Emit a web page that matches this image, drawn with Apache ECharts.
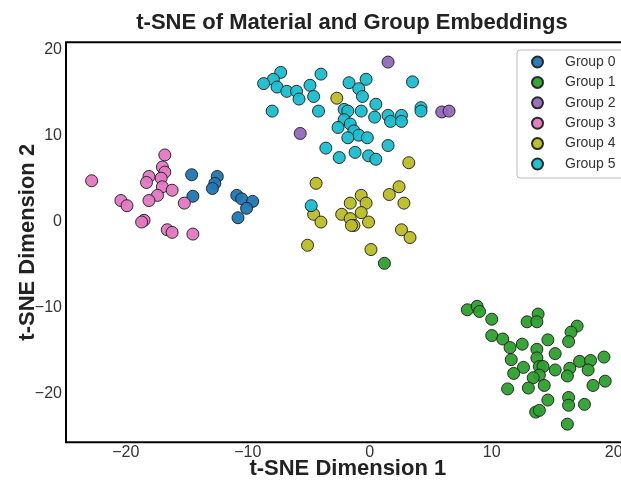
<!DOCTYPE html>
<html>
<head>
<meta charset="utf-8">
<script src="https://cdn.jsdelivr.net/npm/echarts@6/dist/echarts.min.js"></script>
<style>html,body{margin:0;padding:0;background:#fff}#c{width:621px;height:481px}</style>
</head>
<body>
<div id="c"></div>
<script>
const groupNames = ['Group 0','Group 1','Group 2','Group 3','Group 4','Group 5'];
const groupColors = ['#1f77b4','#2ca02c','#9467bd','#e377c2','#bcbd22','#17becf'];
const xTicks = [-20,-10,0,10,20];
const yTicks = [-20,-10,0,10,20];

const group0 = [[-14.6,5.5],[-12.5,5.3],[-12.7,4.5],[-12.9,3.9],[-14.5,3.0],[-10.9,3.1],[-10.5,2.7],[-9.6,2.4],[-10.1,1.6],[-10.8,0.5]];
const group1 = [[1.2,-4.8],[8.0,-10.2],[8.8,-9.8],[9.0,-10.4],[10.0,-11.3],[12.9,-11.6],[13.8,-10.7],[13.7,-11.6],[17.0,-12.1],[16.5,-12.8],[16.3,-13.9],
  [10.0,-13.2],[10.9,-13.6],[11.5,-14.6],[12.5,-14.2],[14.6,-13.7],[13.7,-14.8],[13.7,-15.8],[15.2,-15.3],[11.6,-16.0],[19.2,-15.7],
  [17.2,-16.2],[18.1,-16.1],[17.9,-17.2],[12.6,-16.9],[11.8,-17.6],[13.9,-16.8],[14.2,-16.8],[15.2,-17.2],[16.4,-17.0],[16.2,-17.9],
  [13.9,-17.8],[13.4,-18.1],[14.3,-19.0],[13.0,-19.3],[11.3,-19.4],[19.3,-18.5],[18.3,-19.0],[14.6,-20.7],[16.3,-20.4],[16.3,-21.3],
  [17.6,-21.2],[13.6,-22.1],[13.9,-21.9],[16.2,-23.5]];
const group2 = [[1.5,18.6],[-5.7,10.3],[5.9,12.8],[6.5,12.9]];
const group3 = [[-22.8,4.8],[-16.8,7.8],[-17.0,6.4],[-16.8,5.8],[-18.1,5.3],[-18.3,4.6],[-17.1,5.1],[-17.0,4.1],[-16.2,3.7],[-17.4,3.1],
  [-18.1,2.5],[-20.4,2.5],[-19.9,1.9],[-15.2,2.2],[-18.5,0.2],[-18.7,0.0],[-16.6,-0.9],[-16.2,-1.2],[-14.5,-1.4]];
const group4 = [[-2.7,14.4],[3.2,6.9],[-4.4,4.5],[-4.6,0.9],[-4.0,0.0],[-0.7,3.1],[-1.6,2.2],[-0.3,2.2],[-0.7,1.1],[-2.3,0.9],[-1.6,0.4],
  [-1.3,-0.4],[-1.5,-0.4],[-0.1,0.0],[1.6,3.2],[2.4,4.1],[2.8,2.2],[2.6,-0.9],[3.3,-1.8],[-5.1,-2.7],[0.1,-3.2]];
const group5 = [[-7.3,17.4],[-7.9,16.6],[-8.7,16.1],[-7.6,15.7],[-6.8,15.2],[-6.0,15.2],[-5.8,14.3],[-4.9,15.9],[-4.0,17.2],[-4.6,14.6],
  [-8.0,12.9],[-4.2,12.9],[-1.7,16.2],[-0.3,16.6],[-0.9,15.5],[-0.6,14.6],[0.5,13.7],[-2.1,13.1],[-1.8,12.9],[-0.7,12.9],[0.4,12.2],
  [1.5,12.4],[1.7,11.7],[2.6,12.4],[2.6,11.7],[3.5,16.3],[4.2,13.3],[4.2,12.9],[-2.1,11.9],[-1.6,11.4],[-2.6,11.0],[-1.3,10.6],
  [-0.9,10.1],[-1.8,9.8],[-0.2,9.8],[1.5,8.9],[-3.6,8.6],[-1.2,8.1],[-2.5,7.5],[-0.1,7.7],[0.5,7.3],[-4.8,1.9]];
const groups = [group0, group1, group2, group3, group4, group5];

const chart = echarts.init(document.getElementById('c'), null, {renderer:'canvas'});
const FONT = 'Liberation Sans, Arial, sans-serif';
const fmt = v => String(v).replace('-', '\u2212');
chart.setOption({
  animation: false,
  title: {
    text: 't-SNE of Material and Group Embeddings',
    left: 347, top: 7, textAlign: 'center',
    textStyle: {fontFamily: FONT, fontSize: 22, fontWeight: 'bold', color: '#222'}
  },
  legend: {
    orient: 'vertical', left: 517, top: 50,
    data: groupNames,
    icon: 'circle', itemWidth: 11, itemHeight: 11, itemGap: 6.4,
    padding: [5, 8, 7, 14],
    borderColor: '#bbb', borderWidth: 1, borderRadius: 3,
    backgroundColor: '#fff',
    textStyle: {fontFamily: FONT, fontSize: 14, color: '#333', padding: [0,0,0,17], lineHeight: 14}
  },
  grid: {left: 66, top: 42.3, right: -8.6, bottom: 38.8, outerBoundsMode: 'none', containLabel: false,
    show: true, borderColor: '#000', borderWidth: 2, backgroundColor: '#fff'},
  xAxis: {
    type: 'value', min: -24.9, max: 21.3,
    name: 't-SNE Dimension 1', nameLocation: 'middle', nameGap: 16, nameMoveOverlap: false,
    nameTextStyle: {fontFamily: FONT, fontSize: 22, fontWeight: 'bold', color: '#222'},
    axisLine: {show: false}, axisTick: {show: false}, splitLine: {show: false},
    axisLabel: {customValues: xTicks, formatter: fmt, fontFamily: FONT, fontSize: 16, color: '#333', margin: 2}
  },
  yAxis: {
    type: 'value', min: -25.6, max: 20.9,
    name: 't-SNE Dimension 2', nameLocation: 'middle', nameGap: 27, nameMoveOverlap: false,
    nameTextStyle: {fontFamily: FONT, fontSize: 22, fontWeight: 'bold', color: '#222'},
    axisLine: {show: false}, axisTick: {show: false}, splitLine: {show: false},
    axisLabel: {customValues: yTicks, formatter: fmt, fontFamily: FONT, fontSize: 16, color: '#333', margin: 4}
  },
  series: groups.map((g, i) => ({
    name: groupNames[i], type: 'scatter', data: g, symbol: 'circle', symbolSize: 12,
    itemStyle: {color: groupColors[i], borderColor: '#222', borderWidth: 1, opacity: 0.95}
  }))
});
</script>
</body>
</html>
